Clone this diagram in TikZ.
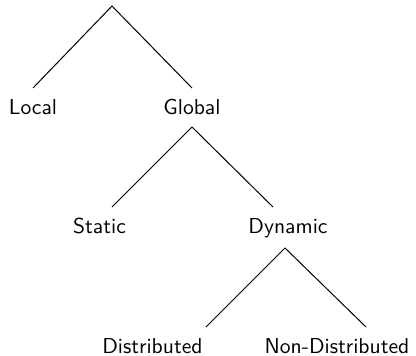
\documentclass[tikz,border=0pt]{standalone}
\begin{document}
\begin{tikzpicture}[x=0.5pt,y=-0.5pt,
  lbl/.style={font=\sffamily\fontsize{10.8}{13}\selectfont, anchor=base, inner sep=0pt},
  edge/.style={line width=0.5pt}]
\useasboundingbox (0,0) rectangle (416,355);
% apexes and ends
\coordinate (r) at (112,6);
\coordinate (rl) at (33,88);
\coordinate (rr) at (192,88);
\coordinate (g) at (192,127);
\coordinate (gl) at (112,207);
\coordinate (gr) at (273,207);
\coordinate (d) at (285,248);
\coordinate (dl) at (206,327);
\coordinate (dr) at (366,327);
\draw[edge] (rl) -- (r) -- (rr);
\draw[edge] (gl) -- (g) -- (gr);
\draw[edge] (dl) -- (d) -- (dr);
\node[lbl] (local) at (33,114) {Local};
\node[lbl] (global) at (192,114) {Global};
\node[lbl] (static) at (99.5,233) {Static};
\node[lbl] (dynamic) at (288,233) {Dynamic};
\node[lbl] (distributed) at (152.5,353) {Distributed};
\node[lbl] (nondistributed) at (337,353) {Non-Distributed};
\end{tikzpicture}
\end{document}
